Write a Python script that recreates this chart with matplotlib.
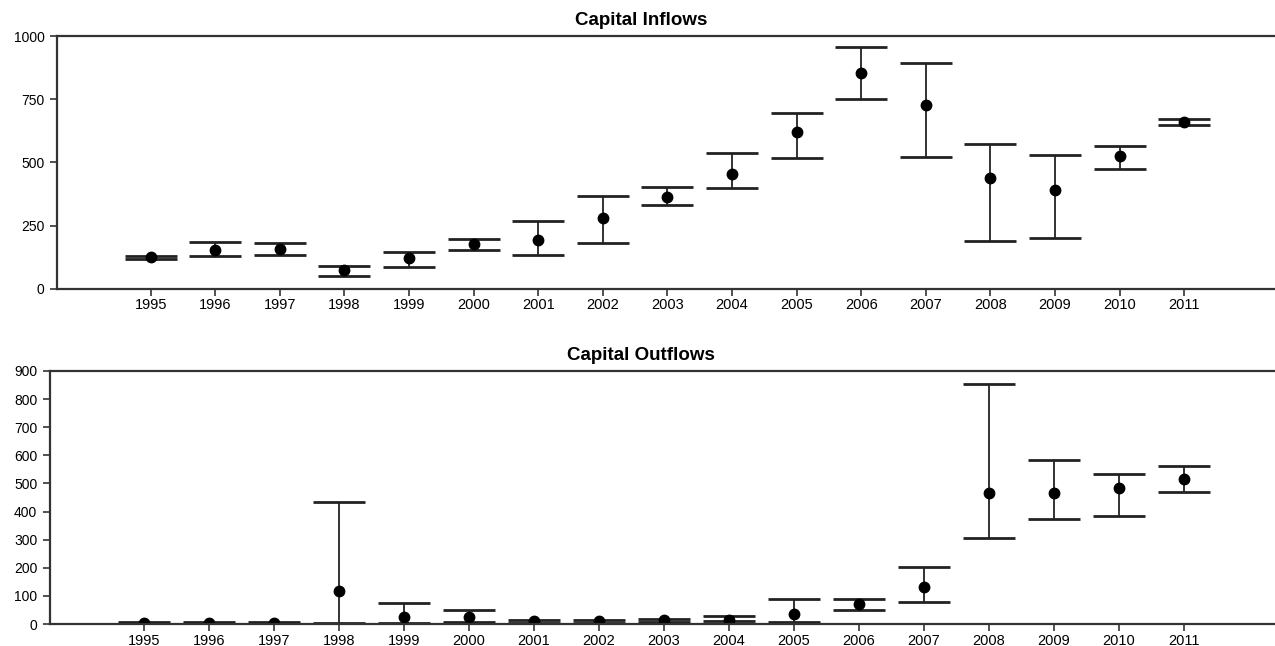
import numpy as np
import matplotlib
matplotlib.use("Agg")
import matplotlib.pyplot as plt

plt.rcParams['font.family'] = ['Liberation Sans', 'DejaVu Sans']

jahre = list(range(1995, 2012))

# Capital Inflows: Mittelwert, obere und untere Grenze
zufluss_mittel = [126, 155, 156, 73, 121, 177, 193, 282, 364, 456, 621, 854, 728, 438, 390, 526, 661]
zufluss_oben = [131, 185, 183, 89, 147, 196, 269, 369, 402, 536, 694, 959, 894, 574, 530, 565, 674]
zufluss_unten = [118, 130, 134, 52, 87, 155, 134, 181, 330, 398, 519, 753, 522, 190, 201, 474, 650]

# Capital Outflows
abfluss_mittel = [3, 4, 3, 116, 24, 24, 11, 11, 13, 15, 36, 72, 131, 466, 465, 483, 516]
abfluss_oben = [6, 7, 6, 433, 75, 51, 15, 15, 19, 28, 90, 88, 204, 855, 585, 534, 562]
abfluss_unten = [1, 1, 1, 2, 2, 6, 4, 5, 9, 12, 8, 51, 79, 306, 372, 383, 471]

zufluss_ticks = [0, 250, 500, 750, 1000]
abfluss_ticks = [0, 100, 200, 300, 400, 500, 600, 700, 800, 900]

fig = plt.figure(figsize=(12.75, 6.46), dpi=100)
ax1 = fig.add_axes([0.0447, 0.553, 0.955, 0.391])
ax2 = fig.add_axes([0.039, 0.034, 0.961, 0.3917])

def zeichne(ax, mittel, oben, unten, ticks, ymax):
    mittel = np.array(mittel)
    fehler = [mittel - np.array(unten), np.array(oben) - mittel]
    ax.errorbar(jahre, mittel, yerr=fehler, fmt='o', color='black', ecolor='#222222',
                elinewidth=1.3, capsize=18.5, capthick=2, markersize=7.5)
    ax.set_xlim(1993.55, 2012.4)
    ax.set_ylim(0, ymax)
    ax.set_xticks(jahre)
    ax.set_xticklabels([str(j) for j in jahre], fontsize=10.5)
    ax.set_yticks(ticks)
    ax.set_yticklabels([str(t) for t in ticks], fontsize=10)
    ax.spines['right'].set_visible(False)
    for s in ['top', 'bottom', 'left']:
        ax.spines[s].set_linewidth(1.6)
        ax.spines[s].set_color('#333333')
    ax.tick_params(axis='both', length=5, width=1.2, color='#333333')
    ax.tick_params(axis='x', pad=2)
    ax.tick_params(axis='y', pad=4)

zeichne(ax1, zufluss_mittel, zufluss_oben, zufluss_unten, zufluss_ticks, 1000)
zeichne(ax2, abfluss_mittel, abfluss_oben, abfluss_unten, abfluss_ticks, 900)

fig.text(0.503, 0.969, "Capital Inflows", ha='center', va='center', fontsize=13.5, fontweight='bold')
fig.text(0.503, 0.449, "Capital Outflows", ha='center', va='center', fontsize=13.5, fontweight='bold')

fig.savefig("out.png", dpi=100)
